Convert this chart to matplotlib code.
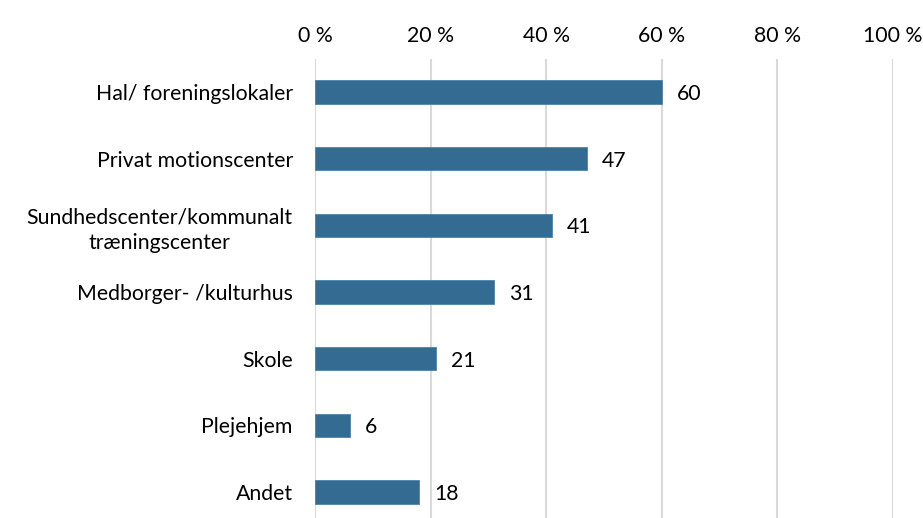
import matplotlib

matplotlib.use("Agg")
import matplotlib.pyplot as plt
from matplotlib.ticker import FuncFormatter

categories = [
    "Hal/ foreningslokaler",
    "Privat motionscenter",
    "Sundhedscenter/kommunalt\ntræningscenter",
    "Medborger- /kulturhus",
    "Skole",
    "Plejehjem",
    "Andet",
]
values = [60, 47, 41, 31, 21, 6, 18]
x_ticks = [0, 20, 40, 60, 80, 100]

plt.rcParams["font.family"] = ["Lato", "DejaVu Sans"]
FS = 15.3

fig = plt.figure(figsize=(9.23, 5.18), dpi=100)
ax = fig.add_axes([315 / 923, 0, (893 - 315) / 923, 1 - 58.7 / 518])

positions = list(range(len(categories)))
ax.barh(positions, values, height=0.35, color="#336B93", edgecolor="#4D83AA",
        linewidth=0.6, zorder=3)

for y, v in zip(positions, values):
    ax.text(v + 2.6, y + 0.03, f"{v}", va="center", ha="left", fontsize=FS,
            color="black")

ax.set_xlim(0, 100)
ax.set_ylim(6.39, -0.5)
ax.set_xticks(x_ticks)
ax.xaxis.set_major_formatter(FuncFormatter(lambda v, p: f"{int(v)} %"))
ax.xaxis.tick_top()
ax.tick_params(axis="x", length=0, pad=9.5, labelsize=FS)
ax.tick_params(axis="y", length=0, pad=16, labelsize=FS)
ax.set_yticks(positions)
ax.set_yticklabels(categories, ha="right", multialignment="center",
                   linespacing=1.35)

ax.grid(axis="x", color="#D9D9D9", linewidth=1.5, zorder=0)
ax.grid(axis="y", visible=False)
for side in ["top", "right", "bottom", "left"]:
    ax.spines[side].set_visible(False)

fig.savefig("out.png", dpi=100)
plt.close(fig)
